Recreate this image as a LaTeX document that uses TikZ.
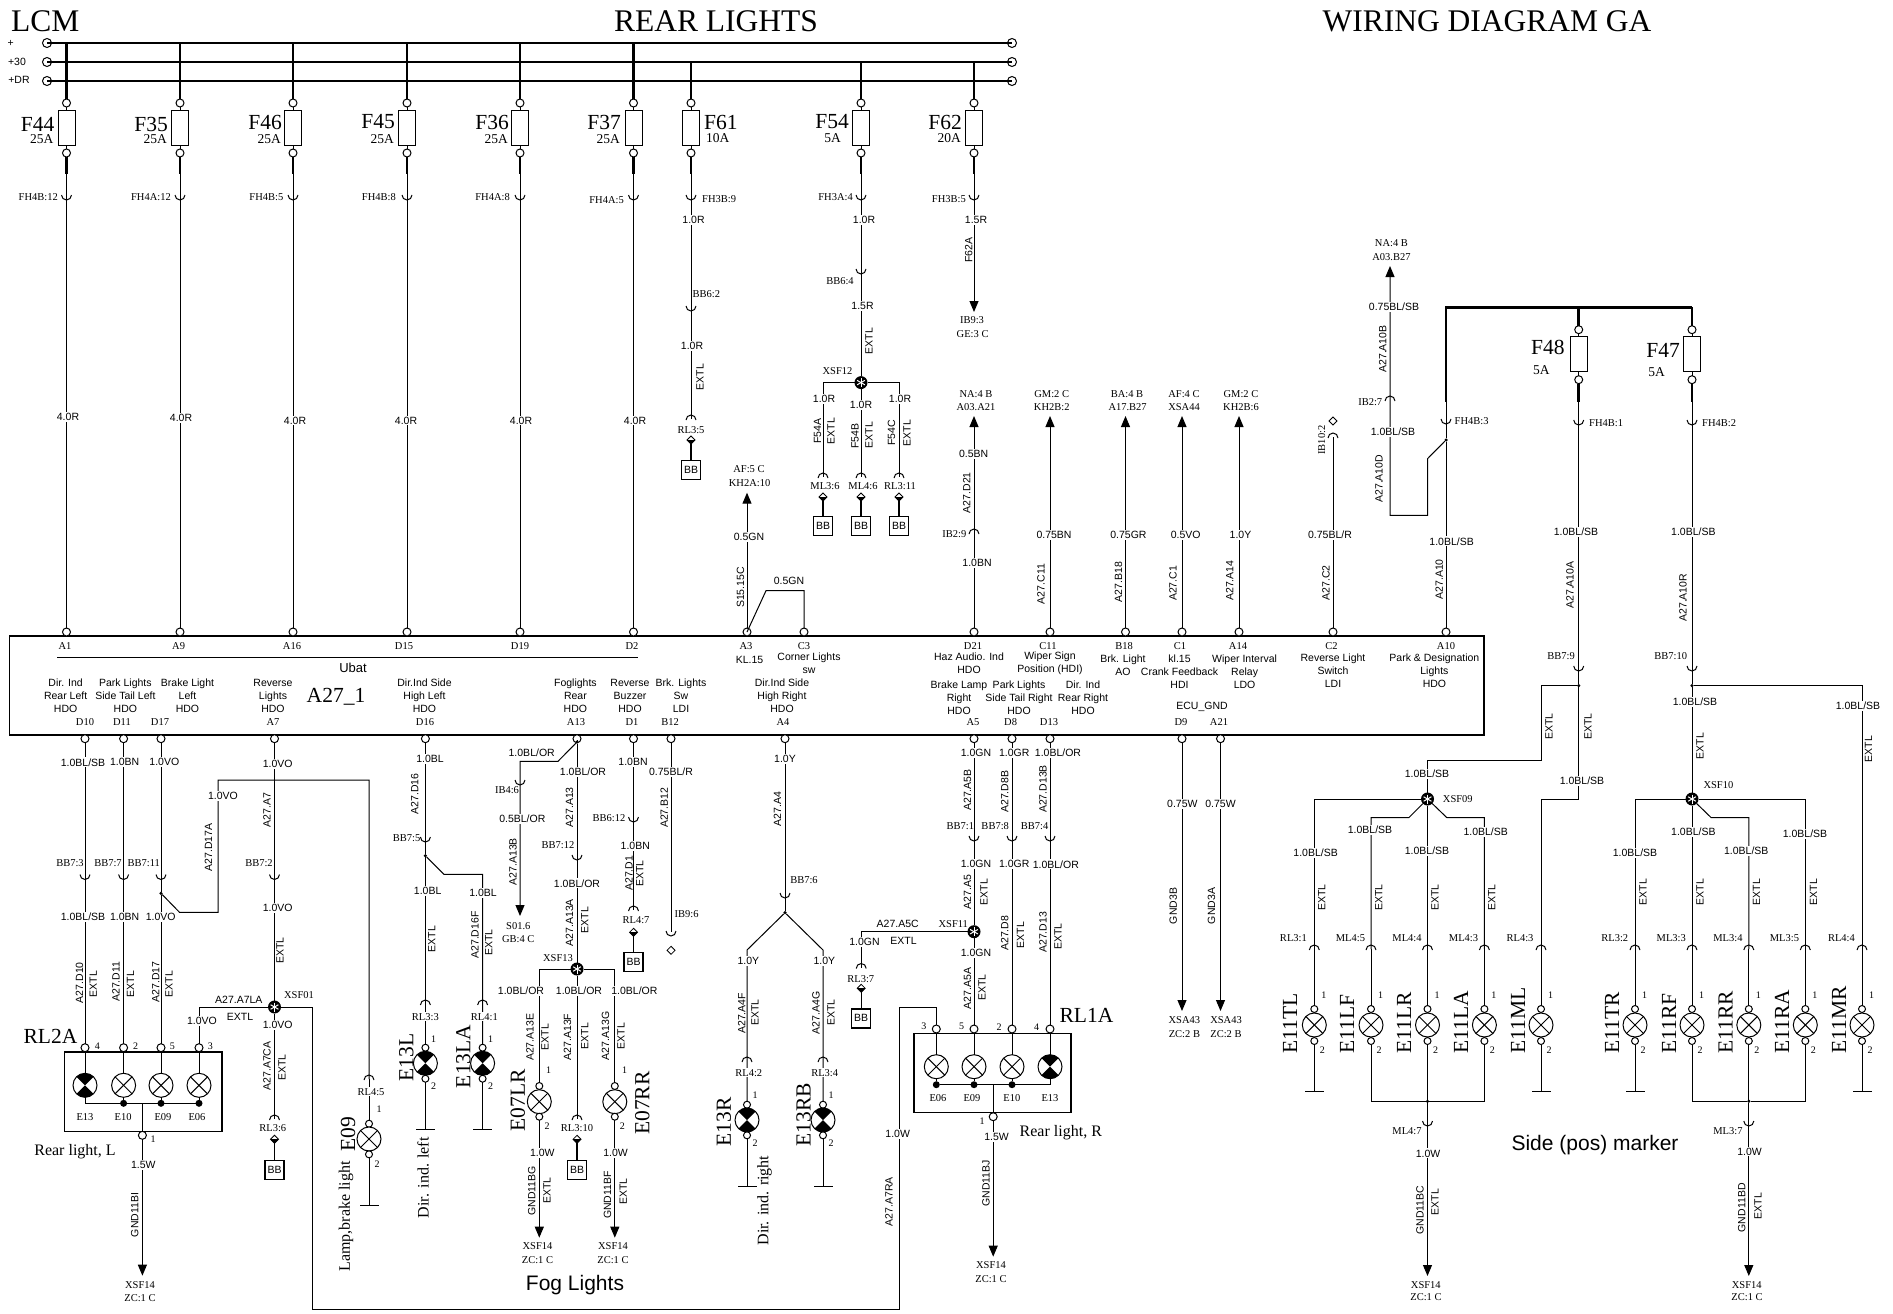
\documentclass[tikz,border=0pt]{standalone}
\usepackage{fontspec}
\setmainfont{Liberation Serif}
\setsansfont{Liberation Sans}
\usetikzlibrary{arrows.meta, shapes.geometric}

\begin{document}
\begin{tikzpicture}[x=1pt, y=-1pt,
		wire/.style={line width=1pt},
		feed/.style={line width=2.6pt},
		toarrow/.style={-{Triangle[length=11pt,width=9pt]}},
		tag/.style={font=\rmfamily\fontsize{10.5}{13}\selectfont, inner sep=0pt},
		tagw/.style={tag, fill=white, inner sep=1pt},
		num/.style={font=\rmfamily\fontsize{10}{12}\selectfont, inner sep=0pt},
		cab/.style={font=\sffamily\fontsize{10.5}{13}\selectfont, fill=white, inner sep=1.2pt},
		code/.style={font=\sffamily\fontsize{10.5}{13}\selectfont, rotate=90, inner sep=0pt},
		txt/.style={font=\sffamily\fontsize{10.5}{13}\selectfont, align=center, inner sep=0pt},
		title/.style={font=\rmfamily\fontsize{31.5}{34}\selectfont, inner sep=0pt},
		big/.style={font=\rmfamily\fontsize{21.5}{24}\selectfont, inner sep=0pt},
		bigv/.style={big, rotate=90, anchor=west},
		rate/.style={font=\rmfamily\fontsize{13.5}{15}\selectfont, inner sep=0pt},
		mid/.style={font=\rmfamily\fontsize{16}{18}\selectfont, inner sep=0pt},
		midv/.style={mid, rotate=90, anchor=west},
		hand/.style={font=\sffamily\fontsize{21}{24}\selectfont, inner sep=0pt},
		term/.style={circle, draw, fill=white, line width=1pt, inner sep=0pt, outer sep=0pt, minimum size=8pt},
		lpin/.style={term, minimum size=7pt},
		busend/.style={circle, draw, line width=1pt, inner sep=0pt, minimum size=9pt},
		fuse/.style={rectangle, draw, line width=1pt, inner sep=0pt, outer sep=0pt, minimum width=17pt, minimum height=35pt},
		unit/.style={rectangle, draw, line width=1.2pt, inner sep=0pt, outer sep=0pt},
		dot/.style={circle, fill=black, inner sep=0pt, outer sep=0pt, minimum size=3.5pt},
		bdot/.style={circle, fill=black, inner sep=0pt, outer sep=0pt, minimum size=7pt},
		bar/.style={rectangle, fill=black, inner sep=0pt, outer sep=0pt, minimum width=19pt, minimum height=1.4pt},
		cup/.style={inner sep=0pt, outer sep=0pt, minimum size=0pt,
			append after command={\pgfextra{\draw[wire] ([xshift=-5pt,yshift=1pt]\tikzlastnode.center) arc[start angle=180,end angle=360,radius=5pt];}}},
		hood/.style={inner sep=0pt, outer sep=0pt, minimum size=0pt,
			append after command={\pgfextra{\draw[wire] ([xshift=-5pt,yshift=-1pt]\tikzlastnode.center) arc[start angle=180,end angle=0,radius=5pt];}}},
		splice/.style={circle, fill=black, inner sep=0pt, outer sep=0pt, minimum size=13pt,
			path picture={
				\draw[white,line width=1pt] ([shift={(90:4.5pt)}]path picture bounding box.center) -- ([shift={(270:4.5pt)}]path picture bounding box.center);
				\draw[white,line width=1pt] ([shift={(30:4.5pt)}]path picture bounding box.center) -- ([shift={(210:4.5pt)}]path picture bounding box.center);
				\draw[white,line width=1pt] ([shift={(150:4.5pt)}]path picture bounding box.center) -- ([shift={(330:4.5pt)}]path picture bounding box.center);}},
		plug/.style={diamond, draw, line width=.8pt, fill=white, inner sep=0pt, outer sep=0pt, minimum size=8pt,
			path picture={\fill[black] (path picture bounding box.west) rectangle (path picture bounding box.south east);}},
		plugo/.style={diamond, draw, line width=.8pt, fill=white, inner sep=0pt, outer sep=0pt, minimum size=8pt},
		bbbox/.style={rectangle, draw, line width=1.4pt, fill=white, inner sep=0pt, outer sep=0pt, minimum size=19pt, font=\sffamily\fontsize{10.5}{13}\selectfont},
		lamp/.style={circle, draw, fill=white, line width=1pt, inner sep=0pt, outer sep=0pt, minimum size=24pt,
			path picture={
				\draw (path picture bounding box.north west) -- (path picture bounding box.south east);
				\draw (path picture bounding box.north east) -- (path picture bounding box.south west);}},
		lampb/.style={circle, draw, fill=white, line width=1pt, inner sep=0pt, outer sep=0pt, minimum size=24pt,
			path picture={
				\fill[black] (path picture bounding box.center) -- (path picture bounding box.north west) -- (path picture bounding box.north east) -- cycle;
				\fill[black] (path picture bounding box.center) -- (path picture bounding box.south west) -- (path picture bounding box.south east) -- cycle;}}
		]
		\useasboundingbox (0,0) rectangle (1893,1314);

		% titles
		\node[title] (lcm) at (45.3,21) {LCM};
		\node[title] (rear) at (716,21) {REAR LIGHTS};
		\node[title] (wiring) at (1487,21) {WIRING DIAGRAM GA};

		% supply rails
		\node[busend] (rail1a) at (47,43) {};
		\node[busend] (rail1b) at (1012,43) {};
		\node[busend] (rail2a) at (47,62) {};
		\node[busend] (rail2b) at (1012,62) {};
		\node[busend] (rail3a) at (47,81) {};
		\node[busend] (rail3b) at (1012,81) {};
		\draw[feed] (rail1a.center) -- (rail1b.center);
		\draw[feed] (rail2a.center) -- (rail2b.center);
		\draw[feed] (rail3a.center) -- (rail3b.center);
		\node[txt] (plus) at (10.7,43) {+};
		\node[txt] (plus30) at (17,61.5) {+30};
		\node[txt] (plusdr) at (19,80) {+DR};

		% control unit A27_1
		\node[unit, minimum width=1474.6pt, minimum height=99pt] (a27) at (746.7,685.5) {};
		\node[big] (a27n) at (336,697) {A27\_1};
		\coordinate (ubata) at (57,657.3);
		\coordinate (ubatb) at (637.5,657.3);
		\draw[wire] (ubata) -- (ubatb);
		\node[txt, font=\sffamily\fontsize{13}{15}\selectfont] (ubat) at (353,667.5) {Ubat};

		% terminals on the top edge
		\node[term] (a1) at (66.5,632) {};
		\node[term] (a9) at (180,632) {};
		\node[term] (a16) at (293,632) {};
		\node[term] (d15) at (407,632) {};
		\node[term] (d19) at (520,632) {};
		\node[term] (d2) at (633.5,632) {};
		\node[term] (a3) at (747,632) {};
		\node[term] (c3) at (804,632) {};
		\node[term] (d21) at (974,632) {};
		\node[term] (c11) at (1050,632) {};
		\node[term] (b18) at (1125.5,632) {};
		\node[term] (c1) at (1182,632) {};
		\node[term] (a14) at (1239,632) {};
		\node[term] (c2) at (1333,632) {};
		\node[term] (a10) at (1446,632) {};
		\node[tag] (a1t) at (65,645.7) {A1};
		\node[tag] (a9t) at (178.6,645.7) {A9};
		\node[tag] (a16t) at (292,645.7) {A16};
		\node[tag] (d15t) at (404,645.7) {D15};
		\node[tag] (d19t) at (520,645.7) {D19};
		\node[tag] (d2t) at (632,645.7) {D2};
		\node[tag] (a3t) at (746,645.7) {A3};
		\node[tag] (c3t) at (804,645.7) {C3};
		\node[tag] (d21t) at (973,645.7) {D21};
		\node[tag] (c11t) at (1048,645.7) {C11};
		\node[tag] (b18t) at (1124,645.7) {B18};
		\node[tag] (c1t) at (1180,645.7) {C1};
		\node[tag] (a14t) at (1238,645.7) {A14};
		\node[tag] (c2t) at (1331.5,645.7) {C2};
		\node[tag] (a10t) at (1446,645.7) {A10};

		% terminals on the bottom edge
		\node[term] (d10) at (85,738.7) {};
		\node[term] (d11) at (123.6,738.7) {};
		\node[term] (d17) at (161,738.7) {};
		\node[term] (a7) at (274.5,738.7) {};
		\node[term] (d16) at (425.4,738.7) {};
		\node[term] (a13) at (577,738.7) {};
		\node[term] (d1) at (633.5,738.7) {};
		\node[term] (b12) at (671,738.7) {};
		\node[term] (a4) at (785,738.7) {};
		\node[term] (a5) at (974,738.7) {};
		\node[term] (d8) at (1012,738.7) {};
		\node[term] (d13) at (1050,738.7) {};
		\node[term] (d9) at (1182,738.7) {};
		\node[term] (a21) at (1220.5,738.7) {};
		\node[tag] (d10t) at (85,721.7) {D10};
		\node[tag] (d11t) at (122,721.7) {D11};
		\node[tag] (d17t) at (160,721.7) {D17};
		\node[tag] (a7t) at (273,721.7) {A7};
		\node[tag] (d16t) at (425,721.7) {D16};
		\node[tag] (a13t) at (576,721.7) {A13};
		\node[tag] (d1t) at (632,721.7) {D1};
		\node[tag] (b12t) at (670,721.7) {B12};
		\node[tag] (a4t) at (783,721.7) {A4};
		\node[tag] (a5t) at (973,721.7) {A5};
		\node[tag] (d8t) at (1010.6,721.7) {D8};
		\node[tag] (d13t) at (1049,721.7) {D13};
		\node[tag] (d9t) at (1181,721.7) {D9};
		\node[tag] (a21t) at (1219,721.7) {A21};

		% texts inside the unit
		\node[txt] (b1) at (65.6,695.7) {Dir. Ind\\Rear Left\\HDO};
		\node[txt] (b2) at (125.4,695.7) {Park Lights\\Side Tail Left\\HDO};
		\node[txt] (b3) at (187.5,695.7) {Brake Light\\Left\\HDO};
		\node[txt] (b4) at (273,695.7) {Reverse\\Lights\\HDO};
		\node[txt] (b5) at (424.5,695.7) {Dir.Ind Side\\High Left\\HDO};
		\node[txt] (b6) at (575.4,695.7) {Foglights\\Rear\\HDO};
		\node[txt] (b7) at (630,695.7) {Reverse\\Buzzer\\HDO};
		\node[txt] (b8) at (681,695.7) {Brk. Lights\\Sw\\LDI};
		\node[txt] (b9) at (782,695.7) {Dir.Ind Side\\High Right\\HDO};
		\node[txt] (b10) at (749.6,660) {KL.15};
		\node[txt] (b11) at (809,662.8) {Corner Lights\\sw};
		\node[txt] (b12n) at (969,662.8) {Haz Audio. Ind\\HDO};
		\node[txt] (b13) at (1050,662.8) {Wiper Sign\\Position (HDI)};
		\node[txt] (b14) at (1123,664.8) {Brk. Light\\AO};
		\node[txt] (b15) at (1179.5,671.3) {kl.15\\Crank Feedback\\HDI};
		\node[txt] (b16) at (1244.6,671.3) {Wiper Interval\\Relay\\LDO};
		\node[txt] (b17) at (1333,671) {Reverse Light\\Switch\\LDI};
		\node[txt] (b18n) at (1434.4,671) {Park \& Designation\\Lights\\HDO};
		\node[txt] (b19) at (959,697.3) {Brake Lamp\\Right\\HDO};
		\node[txt] (b20) at (1019,697.3) {Park Lights\\Side Tail Right\\HDO};
		\node[txt] (b21) at (1083,697.3) {Dir. Ind\\Rear Right\\HDO};
		\node[txt] (b22) at (1202,707) {ECU\_GND};

		% fuse F44
		\coordinate (f44z) at (66.5,43);
		\node[term] (f44a) at (66.5,103) {};
		\node[fuse] (f44) at (66.5,127.5) {};
		\node[term] (f44b) at (66.5,153) {};
		\coordinate (f44s) at (66.5,174);
		\node[cup] (fh44) at (66.5,196) {};
		\draw[feed] (f44z) -- (f44a);
		\draw[wire] (f44a) -- (f44);
		\draw[wire] (f44) -- (f44b);
		\draw[feed] (f44b) -- (f44s);
		\draw[wire] (f44s) -- (fh44) -- (a1);
		\node[big, anchor=east] (f44n) at (54.5,124) {F44};
		\node[rate, anchor=east] (f44r) at (53.5,139) {25A};
		\node[tag, anchor=east] (fh44t) at (58,197) {FH4B:12};
		\node[cab] (w1) at (68,417) {4.0R};

		% fuse F35
		\coordinate (f35z) at (180,43);
		\node[term] (f35a) at (180,103) {};
		\node[fuse] (f35) at (180,127.5) {};
		\node[term] (f35b) at (180,153) {};
		\coordinate (f35s) at (180,174);
		\node[cup] (fh35) at (180,196) {};
		\draw[feed] (f35z) -- (f35a);
		\draw[wire] (f35a) -- (f35);
		\draw[wire] (f35) -- (f35b);
		\draw[feed] (f35b) -- (f35s);
		\draw[wire] (f35s) -- (fh35) -- (a9);
		\node[big, anchor=east] (f35n) at (168,124) {F35};
		\node[rate, anchor=east] (f35r) at (167,139) {25A};
		\node[tag, anchor=east] (fh35t) at (171,197) {FH4A:12};
		\node[cab] (w2) at (181,418) {4.0R};

		% fuse F46
		\coordinate (f46z) at (293,43);
		\node[term] (f46a) at (293,103) {};
		\node[fuse] (f46) at (293,127.5) {};
		\node[term] (f46b) at (293,153) {};
		\coordinate (f46s) at (293,174);
		\node[cup] (fh46) at (293,196) {};
		\draw[feed] (f46z) -- (f46a);
		\draw[wire] (f46a) -- (f46);
		\draw[wire] (f46) -- (f46b);
		\draw[feed] (f46b) -- (f46s);
		\draw[wire] (f46s) -- (fh46) -- (a16);
		\node[big, anchor=east] (f46n) at (282,122) {F46};
		\node[rate, anchor=east] (f46r) at (281,139) {25A};
		\node[tag, anchor=east] (fh46t) at (283.5,197) {FH4B:5};
		\node[cab] (w3) at (295,420.5) {4.0R};

		% fuse F45
		\coordinate (f45z) at (407,43);
		\node[term] (f45a) at (407,103) {};
		\node[fuse] (f45) at (407,127.5) {};
		\node[term] (f45b) at (407,153) {};
		\coordinate (f45s) at (407,174);
		\node[cup] (fh45) at (407,196) {};
		\draw[feed] (f45z) -- (f45a);
		\draw[wire] (f45a) -- (f45);
		\draw[wire] (f45) -- (f45b);
		\draw[feed] (f45b) -- (f45s);
		\draw[wire] (f45s) -- (fh45) -- (d15);
		\node[big, anchor=east] (f45n) at (395,122) {F45};
		\node[rate, anchor=east] (f45r) at (394,139) {25A};
		\node[tag, anchor=east] (fh45t) at (396,197) {FH4B:8};
		\node[cab] (w4) at (406,420.5) {4.0R};

		% fuse F36
		\coordinate (f36z) at (520,43);
		\node[term] (f36a) at (520,103) {};
		\node[fuse] (f36) at (520,127.5) {};
		\node[term] (f36b) at (520,153) {};
		\coordinate (f36s) at (520,174);
		\node[cup] (fh36) at (520,196) {};
		\draw[feed] (f36z) -- (f36a);
		\draw[wire] (f36a) -- (f36);
		\draw[wire] (f36) -- (f36b);
		\draw[feed] (f36b) -- (f36s);
		\draw[wire] (f36s) -- (fh36) -- (d19);
		\node[big, anchor=east] (f36n) at (509,122) {F36};
		\node[rate, anchor=east] (f36r) at (508,139) {25A};
		\node[tag, anchor=east] (fh36t) at (510,197) {FH4A:8};
		\node[cab] (w5) at (521,420.5) {4.0R};

		% fuse F37
		\coordinate (f37z) at (633.5,43);
		\node[term] (f37a) at (633.5,103) {};
		\node[fuse] (f37) at (633.5,127.5) {};
		\node[term] (f37b) at (633.5,153) {};
		\coordinate (f37s) at (633.5,174);
		\node[cup] (fh37) at (633.5,196) {};
		\draw[feed] (f37z) -- (f37a);
		\draw[wire] (f37a) -- (f37);
		\draw[wire] (f37) -- (f37b);
		\draw[feed] (f37b) -- (f37s);
		\draw[wire] (f37s) -- (fh37) -- (d2);
		\node[big, anchor=east] (f37n) at (621,122) {F37};
		\node[rate, anchor=east] (f37r) at (620,139) {25A};
		\node[tag, anchor=east] (fh37t) at (624,200) {FH4A:5};
		\node[cab] (w6) at (635,420.5) {4.0R};

		% fuse F61
		\coordinate (f61z) at (691,62);
		\node[term] (f61a) at (691,103) {};
		\node[fuse] (f61) at (691,127.5) {};
		\node[term] (f61b) at (691,153) {};
		\coordinate (f61s) at (691,174);
		\node[cup] (fh61) at (691,196) {};
		\node[cup] (bb62) at (691,307) {};
		\node[hood] (rl35) at (691,419) {};
		\node[plug] (rl35p) at (691,440) {};
		\node[bbbox] (bb1) at (691,470) {BB};
		\draw[feed] (f61z) -- (f61a);
		\draw[wire] (f61a) -- (f61);
		\draw[wire] (f61) -- (f61b);
		\draw[feed] (f61b) -- (f61s);
		\draw[wire] (f61s) -- (fh61) -- (bb62) -- (rl35);
		\draw[line width=1.4pt] (rl35p) -- (bb1);
		\node[big, anchor=west] (f61n) at (704,122) {F61};
		\node[rate, anchor=west] (f61r) at (706,138.5) {10A};
		\node[tag, anchor=west] (fh61t) at (702,199) {FH3B:9};
		\node[cab] (w7) at (693.5,219.6) {1.0R};
		\node[tag, anchor=west] (bb62t) at (692.5,294) {BB6:2};
		\node[cab] (w8) at (692,346) {1.0R};
		\node[code] (k1) at (700,377) {EXTL};
		\node[tag] (rl35t) at (691,430) {RL3:5};

		% fuse F54
		\coordinate (f54z) at (861,62);
		\node[term] (f54a) at (861,103) {};
		\node[fuse] (f54) at (861,127.5) {};
		\node[term] (f54b) at (861,153) {};
		\coordinate (f54s) at (861,174);
		\node[cup] (fh54) at (861,196) {};
		\node[cup] (bb64) at (861,270) {};
		\node[splice] (xsf12) at (861,382.6) {};
		\coordinate (x12l) at (823,382.6);
		\coordinate (x12r) at (899,382.6);
		\node[hood] (ml36) at (823,477) {};
		\node[hood] (ml46) at (861,477) {};
		\node[hood] (rl311) at (899,477) {};
		\node[plug] (ml36p) at (823,497) {};
		\node[plug] (ml46p) at (861,497) {};
		\node[plug] (rl311p) at (899,497) {};
		\node[bbbox] (bb2) at (823,526) {BB};
		\node[bbbox] (bb3) at (861,526) {BB};
		\node[bbbox] (bb4) at (899,526) {BB};
		\draw[feed] (f54z) -- (f54a);
		\draw[wire] (f54a) -- (f54);
		\draw[wire] (f54) -- (f54b);
		\draw[feed] (f54b) -- (f54s);
		\draw[wire] (f54s) -- (fh54) -- (bb64) -- (xsf12);
		\draw[wire] (xsf12) -- (x12l) -- (ml36);
		\draw[wire] (xsf12) -- (ml46);
		\draw[wire] (xsf12) -- (x12r) -- (rl311);
		\draw[line width=1.4pt] (ml36p) -- (bb2);
		\draw[line width=1.4pt] (ml46p) -- (bb3);
		\draw[line width=1.4pt] (rl311p) -- (bb4);
		\node[big, anchor=east] (f54n) at (849,122) {F54};
		\node[rate, anchor=east] (f54r) at (841,138.5) {5A};
		\node[tag, anchor=east] (fh54t) at (853,197) {FH3A:4};
		\node[cab] (w9) at (864,219.6) {1.0R};
		\node[tag] (bb64t) at (840,280.6) {BB6:4};
		\node[cab] (w10) at (862.5,306) {1.5R};
		\node[code] (k2) at (869,341) {EXTL};
		\node[tag] (xsf12t) at (837.5,371) {XSF12};
		\node[cab] (w11) at (824,399) {1.0R};
		\node[cab] (w12) at (861,405) {1.0R};
		\node[cab] (w13) at (900,399) {1.0R};
		\node[code] (k3) at (817.6,431) {F54A};
		\node[code] (k4) at (831,431) {EXTL};
		\node[code] (k5) at (855,436) {F54B};
		\node[code] (k6) at (869,435) {EXTL};
		\node[code] (k7) at (891.5,433) {F54C};
		\node[code] (k8) at (907,433) {EXTL};
		\node[tag] (ml36t) at (825,486) {ML3:6};
		\node[tag] (ml46t) at (863,486) {ML4:6};
		\node[tag] (rl311t) at (900,486) {RL3:11};

		% fuse F62
		\coordinate (f62z) at (974,62);
		\node[term] (f62a) at (974,103) {};
		\node[fuse] (f62) at (974,127.5) {};
		\node[term] (f62b) at (974,153) {};
		\coordinate (f62s) at (974,174);
		\node[cup] (fh62) at (974,196) {};
		\coordinate (f62e) at (974,312);
		\draw[feed] (f62z) -- (f62a);
		\draw[wire] (f62a) -- (f62);
		\draw[wire] (f62) -- (f62b);
		\draw[feed] (f62b) -- (f62s);
		\draw[wire, toarrow] (f62s) -- (fh62) -- (f62e);
		\node[big, anchor=east] (f62n) at (962,122) {F62};
		\node[rate, anchor=east] (f62r) at (961,138.5) {20A};
		\node[tag, anchor=east] (fh62t) at (966,199) {FH3B:5};
		\node[cab] (w14) at (976,220) {1.5R};
		\node[code] (k9) at (968.7,250) {F62A};
		\node[tag] (ib93) at (972,320) {IB9:3};
		\node[tag] (ge3c) at (972.6,334) {GE:3 C};

		% outputs going up from the unit
		\coordinate (a3e) at (747,492.7);
		\coordinate (c3x) at (766,590.7);
		\coordinate (c3y) at (804,590.7);
		\draw[wire, toarrow] (a3) -- (a3e);
		\draw[wire] (a3.center) -- (c3x) -- (c3y) -- (c3);
		\node[tag] (af5c) at (749,469) {AF:5 C};
		\node[tag] (kh2a) at (749.6,483) {KH2A:10};
		\node[cab] (w15) at (749,537) {0.5GN};
		\node[code] (k10) at (740.5,587.5) {S15.15C};
		\node[cab] (w16) at (789,580.6) {0.5GN};

		\coordinate (d21e) at (974,416);
		\node[hood] (ib29) at (974,533) {};
		\draw[wire, toarrow] (d21) -- (ib29) -- (d21e);
		\node[tag] (na4b) at (976,394) {NA:4 B};
		\node[tag] (a03a) at (976,407.5) {A03.A21};
		\node[cab] (w17) at (973.6,453.7) {0.5BN};
		\node[code] (k11) at (966.6,492.7) {A27.D21};
		\node[tag, anchor=east] (ib29t) at (966.6,534) {IB2:9};
		\node[cab] (w18) at (977,563) {1.0BN};

		\coordinate (c11e) at (1050,416);
		\draw[wire, toarrow] (c11) -- (c11e);
		\node[tag] (gm2c) at (1051.7,394) {GM:2 C};
		\node[tag] (kh2b) at (1051.7,407.5) {KH2B:2};
		\node[cab] (w19) at (1054,535) {0.75BN};
		\node[code] (k12) at (1041,584) {A27.C11};

		\coordinate (b18e) at (1125.5,416);
		\draw[wire, toarrow] (b18) -- (b18e);
		\node[tag] (ba4b) at (1127,394) {BA:4 B};
		\node[tag] (a17b) at (1127.6,407.5) {A17.B27};
		\node[cab] (w20) at (1128.4,535) {0.75GR};
		\node[code] (k13) at (1118.5,582) {A27.B18};

		\coordinate (c1e) at (1182,416);
		\draw[wire, toarrow] (c1) -- (c1e);
		\node[tag] (af4c) at (1184,394) {AF:4 C};
		\node[tag] (xsa44) at (1184,407.5) {XSA44};
		\node[cab] (w21) at (1185.7,535) {0.5VO};
		\node[code] (k14) at (1173,583.4) {A27.C1};

		\coordinate (a14e) at (1239,416);
		\draw[wire, toarrow] (a14) -- (a14e);
		\node[tag] (gm2d) at (1241,394) {GM:2 C};
		\node[tag] (kh2c) at (1241,407.5) {KH2B:6};
		\node[cab] (w22) at (1240.5,535) {1.0Y};
		\node[code] (k15) at (1229.7,580.6) {A27.A14};

		\node[plugo] (ib102p) at (1333,421) {};
		\node[hood] (ib102) at (1333,437) {};
		\draw[wire] (c2) -- (ib102);
		\node[tag, rotate=90] (ib102t) at (1321.7,440) {IB10:2};
		\node[cab] (w23) at (1330,535) {0.75BL/R};
		\node[code] (k16) at (1326,583) {A27.C2};

		% supply of A10 and fuses F48, F47
		\coordinate (a10z) at (1446,307.3);
		\coordinate (f48z) at (1578.7,307.3);
		\coordinate (f47z) at (1692,307.3);
		\coordinate (a10s) at (1446,401.7);
		\node[cup] (fh43) at (1446,420) {};
		\node[dot] (a10j) at (1446,440) {};
		\coordinate (a10x) at (1427.5,458.7);
		\coordinate (a10y) at (1427.5,515.3);
		\coordinate (a10w) at (1390,515.3);
		\node[hood] (ib27) at (1390,400) {};
		\coordinate (a10e) at (1390,266);
		\draw[feed] (a10s) -- (a10z) -- (f47z);
		\draw[wire] (a10s) -- (fh43) -- (a10j) -- (a10);
		\draw[wire, toarrow] (a10j) -- (a10x) -- (a10y) -- (a10w) -- (ib27) -- (a10e);
		\node[tag] (na4c) at (1391.4,242.7) {NA:4 B};
		\node[tag] (a03b) at (1391.4,256.7) {A03.B27};
		\node[cab] (w24) at (1394,306.7) {0.75BL/SB};
		\node[code] (k17) at (1382.8,349) {A27.A10B};
		\node[tag, anchor=east] (ib27t) at (1382.4,401.7) {IB2:7};
		\node[cab] (w25) at (1393,431.7) {1.0BL/SB};
		\node[code] (k18) at (1379,478.7) {A27.A10D};
		\node[tag, anchor=west] (fh43t) at (1454.5,420.7) {FH4B:3};
		\node[cab] (w26) at (1451.6,541.3) {1.0BL/SB};
		\node[code] (k19) at (1439.3,579.3) {A27.A10};

		% fuse F48 and its two runs
		\node[term] (f48a) at (1578.7,329.7) {};
		\node[fuse] (f48) at (1578.7,354.3) {};
		\node[term] (f48b) at (1578.7,379.7) {};
		\coordinate (f48s) at (1578.7,401.7);
		\node[cup] (fh41) at (1578.7,421) {};
		\node[cup] (bb79) at (1578.7,667) {};
		\node[dot] (f48j) at (1578.7,685.7) {};
		\coordinate (f48l) at (1541,685.7);
		\coordinate (f48m) at (1541,760.7);
		\coordinate (f48n2) at (1427.5,760.7);
		\coordinate (f48o) at (1578.7,799);
		\coordinate (f48p) at (1541,799);
		\node[hood] (rl43) at (1541,949) {};
		\node[splice] (xsf09) at (1427.5,799) {};
		\draw[feed] (f48z) -- (f48a);
		\draw[wire] (f48a) -- (f48);
		\draw[wire] (f48) -- (f48b);
		\draw[feed] (f48b) -- (f48s);
		\draw[wire] (f48s) -- (fh41) -- (bb79) -- (f48j) -- (f48o) -- (f48p) -- (rl43);
		\draw[wire] (f48j) -- (f48l) -- (f48m) -- (f48n2) -- (xsf09);
		\node[big, anchor=east] (f48n) at (1564.8,347.7) {F48};
		\node[rate] (f48r) at (1541.4,370) {5A};
		\node[tag, anchor=west] (fh41t) at (1589,422.7) {FH4B:1};
		\node[cab] (w27) at (1576,532) {1.0BL/SB};
		\node[code] (k20) at (1570,585) {A27.A10A};
		\node[tag, anchor=east] (bb79t) at (1575,655.7) {BB7:9};
		\node[code] (k21) at (1549,726.6) {EXTL};
		\node[code] (k22) at (1588,726.6) {EXTL};
		\node[cab] (w28) at (1427,773.6) {1.0BL/SB};
		\node[cab] (w29) at (1582,781) {1.0BL/SB};
		\node[tag] (xsf09t) at (1457.8,799) {XSF09};

		% fuse F47 and its two runs
		\node[term] (f47a) at (1692,329.7) {};
		\node[fuse] (f47) at (1692,354.3) {};
		\node[term] (f47b) at (1692,379.7) {};
		\coordinate (f47s) at (1692,401.7);
		\node[cup] (fh42) at (1692,421) {};
		\node[cup] (bb710) at (1692,667) {};
		\node[dot] (f47j) at (1692,685.7) {};
		\coordinate (f47r2) at (1862,685.7);
		\node[hood] (rl44) at (1862,949) {};
		\node[splice] (xsf10) at (1692,799) {};
		\draw[feed] (f47z) -- (f47a);
		\draw[wire] (f47a) -- (f47);
		\draw[wire] (f47) -- (f47b);
		\draw[feed] (f47b) -- (f47s);
		\draw[wire] (f47s) -- (fh42) -- (bb710) -- (f47j) -- (xsf10);
		\draw[wire] (f47j) -- (f47r2) -- (rl44);
		\node[big, anchor=east] (f47n) at (1680,350) {F47};
		\node[rate] (f47r) at (1656.6,371.7) {5A};
		\node[tag, anchor=west] (fh42t) at (1702,422.7) {FH4B:2};
		\node[cab] (w30) at (1693.4,532) {1.0BL/SB};
		\node[code] (k23) at (1683,597.7) {A27.A10R};
		\node[tag, anchor=east] (bb710t) at (1687.3,655.7) {BB7:10};
		\node[cab] (w31) at (1695,701.7) {1.0BL/SB};
		\node[cab] (w32) at (1858,705.7) {1.0BL/SB};
		\node[code] (k24) at (1700,746) {EXTL};
		\node[code] (k25) at (1868.4,749) {EXTL};
		\node[tag] (xsf10t) at (1718.4,785.4) {XSF10};

		% side marker lamps, left group
		\node[hood] (rl31) at (1314.3,949) {};
		\node[hood] (ml45) at (1371,949) {};
		\node[hood] (ml44) at (1427.5,949) {};
		\node[hood] (ml43) at (1484.4,949) {};
		\coordinate (x09a) at (1314.3,799);
		\coordinate (x09b) at (1409,817.5);
		\coordinate (x09c) at (1371,817.5);
		\coordinate (x09d) at (1446.7,817.5);
		\coordinate (x09e) at (1484.4,817.5);
		\draw[wire] (xsf09) -- (x09a) -- (rl31);
		\draw[wire] (xsf09) -- (x09b) -- (x09c) -- (ml45);
		\draw[wire] (xsf09) -- (ml44);
		\draw[wire] (xsf09) -- (x09d) -- (x09e) -- (ml43);
		\node[lamp] (e11tl) at (1314.3,1025) {};
		\node[lamp] (e11lf) at (1371,1025) {};
		\node[lamp] (e11lr) at (1427.5,1025) {};
		\node[lamp] (e11la) at (1484.4,1025) {};
		\node[lamp] (e11ml) at (1541,1025) {};
		\node[lpin] (e11tla) at (1314.3,1009) {};
		\node[lpin] (e11lfa) at (1371,1009) {};
		\node[lpin] (e11lra) at (1427.5,1009) {};
		\node[lpin] (e11laa) at (1484.4,1009) {};
		\node[lpin] (e11mla) at (1541,1009) {};
		\node[lpin] (e11tlb) at (1314.3,1041) {};
		\node[lpin] (e11lfb) at (1371,1041) {};
		\node[lpin] (e11lrb) at (1427.5,1041) {};
		\node[lpin] (e11lab) at (1484.4,1041) {};
		\node[lpin] (e11mlb) at (1541,1041) {};
		\node[bar] (g1) at (1314.3,1091.5) {};
		\node[bar] (g2) at (1541,1091.5) {};
		\coordinate (r1a) at (1371,1101.3);
		\node[dot] (r1j) at (1427.5,1101.3) {};
		\coordinate (r1b) at (1484.4,1101.3);
		\node[cup] (ml47) at (1427.5,1122) {};
		\coordinate (r1e) at (1427.5,1276);
		\draw[wire] (rl31) -- (e11tla);
		\draw[wire] (ml45) -- (e11lfa);
		\draw[wire] (ml44) -- (e11lra);
		\draw[wire] (ml43) -- (e11laa);
		\draw[wire] (rl43) -- (e11mla);
		\draw[wire] (e11tlb) -- (g1);
		\draw[wire] (e11mlb) -- (g2);
		\draw[wire] (e11lfb) -- (r1a) -- (r1j);
		\draw[wire] (e11lab) -- (r1b) -- (r1j);
		\draw[wire, toarrow] (e11lrb) -- (r1j) -- (ml47) -- (r1e);
		\node[cab] (w33) at (1315.6,852.7) {1.0BL/SB};
		\node[cab] (w34) at (1370,830) {1.0BL/SB};
		\node[cab] (w35) at (1427,850.7) {1.0BL/SB};
		\node[cab] (w36) at (1485.7,832) {1.0BL/SB};
		\node[code] (k26) at (1321.7,897.7) {EXTL};
		\node[code] (k27) at (1378.7,897.7) {EXTL};
		\node[code] (k28) at (1435,897.7) {EXTL};
		\node[code] (k29) at (1491.8,897.7) {EXTL};
		\node[tag] (rl31t) at (1293.4,938) {RL3:1};
		\node[tag] (ml45t) at (1350.4,938) {ML4:5};
		\node[tag] (ml44t) at (1407,938) {ML4:4};
		\node[tag] (ml43t) at (1463.5,938) {ML4:3};
		\node[tag] (rl43t) at (1520,938) {RL4:3};
		\node[bigv] (e11tln) at (1290,1053.6) {E11TL};
		\node[bigv] (e11lfn) at (1347,1053.6) {E11LF};
		\node[bigv] (e11lrn) at (1404,1053.6) {E11LR};
		\node[bigv] (e11lan) at (1461,1053.6) {E11LA};
		\node[bigv] (e11mln) at (1518,1053.6) {E11ML};
		\node[num] (n1) at (1323.8,995.6) {1};
		\node[num] (n2) at (1380.5,995.6) {1};
		\node[num] (n3) at (1437,995.6) {1};
		\node[num] (n4) at (1493.9,995.6) {1};
		\node[num] (n5) at (1550.5,995.6) {1};
		\node[num] (n6) at (1322.3,1050.4) {2};
		\node[num] (n7) at (1379,1050.4) {2};
		\node[num] (n8) at (1435.5,1050.4) {2};
		\node[num] (n9) at (1492.4,1050.4) {2};
		\node[num] (n10) at (1549,1050.4) {2};
		\node[tag] (ml47t) at (1407,1131.5) {ML4:7};
		\node[cab] (w37) at (1428,1153.4) {1.0W};
		\node[code] (k30) at (1420,1210) {GND11BC};
		\node[code] (k31) at (1435,1202) {EXTL};
		\node[tag] (x14a) at (1425.8,1284.6) {XSF14};
		\node[tag] (z1a) at (1426,1297.5) {ZC:1 C};
		\node[hand] (side) at (1595,1145) {Side (pos) marker};

		% side marker lamps, right group
		\node[hood] (rl32) at (1635,949) {};
		\node[hood] (ml33) at (1692,949) {};
		\node[hood] (ml34) at (1748.8,949) {};
		\node[hood] (ml35) at (1805.3,949) {};
		\coordinate (x10a) at (1635,799);
		\coordinate (x10b) at (1711,817.5);
		\coordinate (x10c) at (1748.8,817.5);
		\coordinate (x10d) at (1805.3,799);
		\draw[wire] (xsf10) -- (x10a) -- (rl32);
		\draw[wire] (xsf10) -- (ml33);
		\draw[wire] (xsf10) -- (x10b) -- (x10c) -- (ml34);
		\draw[wire] (xsf10) -- (x10d) -- (ml35);
		\node[lamp] (e11tr) at (1635,1025) {};
		\node[lamp] (e11rf) at (1692,1025) {};
		\node[lamp] (e11rr) at (1748.8,1025) {};
		\node[lamp] (e11ra) at (1805.3,1025) {};
		\node[lamp] (e11mr) at (1862,1025) {};
		\node[lpin] (e11tra) at (1635,1009) {};
		\node[lpin] (e11rfa) at (1692,1009) {};
		\node[lpin] (e11rra) at (1748.8,1009) {};
		\node[lpin] (e11raa) at (1805.3,1009) {};
		\node[lpin] (e11mra) at (1862,1009) {};
		\node[lpin] (e11trb) at (1635,1041) {};
		\node[lpin] (e11rfb) at (1692,1041) {};
		\node[lpin] (e11rrb) at (1748.8,1041) {};
		\node[lpin] (e11rab) at (1805.3,1041) {};
		\node[lpin] (e11mrb) at (1862,1041) {};
		\node[bar] (g3) at (1635,1091.5) {};
		\node[bar] (g4) at (1862,1091.5) {};
		\coordinate (r2a) at (1692,1101.3);
		\node[dot] (r2j) at (1748.8,1101.3) {};
		\coordinate (r2b) at (1805.3,1101.3);
		\node[cup] (ml37) at (1748.8,1122) {};
		\coordinate (r2e) at (1748.8,1276);
		\draw[wire] (rl32) -- (e11tra);
		\draw[wire] (ml33) -- (e11rfa);
		\draw[wire] (ml34) -- (e11rra);
		\draw[wire] (ml35) -- (e11raa);
		\draw[wire] (rl44) -- (e11mra);
		\draw[wire] (e11trb) -- (g3);
		\draw[wire] (e11mrb) -- (g4);
		\draw[wire] (e11rfb) -- (r2a) -- (r2j);
		\draw[wire] (e11rab) -- (r2b) -- (r2j);
		\draw[wire, toarrow] (e11rrb) -- (r2j) -- (ml37) -- (r2e);
		\node[cab] (w38) at (1635,852.7) {1.0BL/SB};
		\node[cab] (w39) at (1693.4,832) {1.0BL/SB};
		\node[cab] (w40) at (1746.3,850.7) {1.0BL/SB};
		\node[cab] (w41) at (1805,834) {1.0BL/SB};
		\node[code] (k32) at (1643,892) {EXTL};
		\node[code] (k33) at (1700,892) {EXTL};
		\node[code] (k34) at (1756.6,892) {EXTL};
		\node[code] (k35) at (1813.5,892) {EXTL};
		\node[tag] (rl32t) at (1614.8,938) {RL3:2};
		\node[tag] (ml33t) at (1671.3,938) {ML3:3};
		\node[tag] (ml34t) at (1727.9,938) {ML3:4};
		\node[tag] (ml35t) at (1784.4,938) {ML3:5};
		\node[tag] (rl44t) at (1841.4,938) {RL4:4};
		\node[bigv] (e11trn) at (1612,1053.6) {E11TR};
		\node[bigv] (e11rfn) at (1669,1053.6) {E11RF};
		\node[bigv] (e11rrn) at (1725.4,1053.6) {E11RR};
		\node[bigv] (e11ran) at (1782,1053.6) {E11RA};
		\node[bigv] (e11mrn) at (1839,1053.6) {E11MR};
		\node[num] (n11) at (1644.5,995.6) {1};
		\node[num] (n12) at (1701.5,995.6) {1};
		\node[num] (n13) at (1758.3,995.6) {1};
		\node[num] (n14) at (1814.8,995.6) {1};
		\node[num] (n15) at (1871.5,995.6) {1};
		\node[num] (n16) at (1643,1050.4) {2};
		\node[num] (n17) at (1700,1050.4) {2};
		\node[num] (n18) at (1756.8,1050.4) {2};
		\node[num] (n19) at (1813.3,1050.4) {2};
		\node[num] (n20) at (1870,1050.4) {2};
		\node[tag] (ml37t) at (1727.9,1131.5) {ML3:7};
		\node[cab] (w42) at (1749.6,1151.5) {1.0W};
		\node[code] (k36) at (1741.8,1207.8) {GND11BD};
		\node[code] (k37) at (1758,1206) {EXTL};
		\node[tag] (x14b) at (1746.7,1284.6) {XSF14};
		\node[tag] (z1b) at (1747,1297.5) {ZC:1 C};

		% rear light RL2A
		\node[unit, minimum width=157.2pt, minimum height=79.7pt] (rl2a) at (143.3,1091.8) {};
		\node[term] (p4) at (85,1047.7) {};
		\node[term] (p2) at (123.6,1047.7) {};
		\node[term] (p5) at (161,1047.7) {};
		\node[term] (p3) at (199,1047.7) {};
		\node[lampb] (la13) at (85,1085.3) {};
		\node[lamp] (la10) at (123.6,1085.3) {};
		\node[lamp] (la09) at (161,1085.3) {};
		\node[lamp] (la06) at (199,1085.3) {};
		\coordinate (lc13) at (85,1103.3);
		\node[bdot] (lc10) at (123.6,1103.3) {};
		\node[bdot] (lc09) at (161,1103.3) {};
		\node[bdot] (lc06) at (199,1103.3) {};
		\coordinate (lcg) at (142.4,1103.3);
		\node[term] (p1) at (142.4,1135.3) {};
		\coordinate (lge) at (142.4,1275.7);
		\draw[wire] (p4) -- (la13) -- (lc13) -- (lc06);
		\draw[wire] (p2) -- (la10) -- (lc10);
		\draw[wire] (p5) -- (la09) -- (lc09);
		\draw[wire] (p3) -- (la06) -- (lc06);
		\draw[wire] (lcg) -- (p1);
		\draw[wire, toarrow] (p1) -- (lge);
		\node[big] (rl2an) at (50.4,1036) {RL2A};
		\node[num] (n21) at (97.3,1046) {4};
		\node[num] (n22) at (135.7,1046) {2};
		\node[num] (n23) at (172.3,1046) {5};
		\node[num] (n24) at (210.3,1046) {3};
		\node[tag] (e13a) at (85,1116.7) {E13};
		\node[tag] (e10a) at (123.2,1116.7) {E10};
		\node[tag] (e09a) at (163,1116.7) {E09};
		\node[tag] (e06a) at (197,1116.7) {E06};
		\node[num] (n25) at (153,1139.3) {1};
		\node[mid] (rearl) at (75,1151.7) {Rear light, L};
		\node[cab] (w43) at (143.3,1165) {1.5W};
		\node[code] (k38) at (134.8,1215) {GND11BI};
		\node[tag] (x14c) at (140,1284.7) {XSF14};
		\node[tag] (z1c) at (140,1297.7) {ZC:1 C};

		% outputs D10, D11, D17
		\node[cup] (bb73) at (85,875.5) {};
		\node[cup] (bb77) at (123.6,875.5) {};
		\node[cup] (bb711) at (161,875.5) {};
		\node[dot] (d17j) at (161,893.3) {};
		\coordinate (d17x) at (179.5,912.3);
		\coordinate (d17y) at (218,912.3);
		\coordinate (d17z) at (218,780);
		\coordinate (d17w) at (369,780);
		\node[hood] (rl45) at (369,1079) {};
		\draw[wire] (d10) -- (bb73) -- (p4);
		\draw[wire] (d11) -- (bb77) -- (p2);
		\draw[wire] (d17) -- (bb711) -- (d17j) -- (p5);
		\draw[wire] (d17j) -- (d17x) -- (d17y) -- (d17z) -- (d17w) -- (rl45);
		\node[cab] (w44) at (83,762.3) {1.0BL/SB};
		\node[cab] (w45) at (124.6,762.3) {1.0BN};
		\node[cab] (w46) at (164.3,762.3) {1.0VO};
		\node[tag] (bb73t) at (70,863) {BB7:3};
		\node[tag] (bb77t) at (108,863) {BB7:7};
		\node[tag] (bb711t) at (143.8,863) {BB7:11};
		\node[cab] (w47) at (83,917) {1.0BL/SB};
		\node[cab] (w48) at (124.6,917) {1.0BN};
		\node[cab] (w49) at (160.7,917.3) {1.0VO};
		\node[code] (k39) at (79.5,982.7) {A27.D10};
		\node[code] (k40) at (93.3,984) {EXTL};
		\node[code] (k41) at (116,981.7) {A27.D11};
		\node[code] (k42) at (130.4,984) {EXTL};
		\node[code] (k43) at (155.8,982) {A27.D17};
		\node[code] (k44) at (169,984) {EXTL};
		\node[cab] (w50) at (223,796.3) {1.0VO};
		\node[code] (k45) at (208.5,847.3) {A27.D17A};

		% output A7
		\node[cup] (bb72) at (274.5,875.5) {};
		\node[splice] (xsf01) at (274.5,1007) {};
		\coordinate (a7l) at (199,1007);
		\coordinate (a7r1) at (312.5,1007);
		\coordinate (a7r2) at (312.5,1309.3);
		\coordinate (a7r3) at (899,1309.3);
		\coordinate (a7r4) at (899,1007.3);
		\coordinate (a7r5) at (936.3,1007.3);
		\node[hood] (rl36) at (274.5,1119) {};
		\node[plug] (rl36p) at (274.5,1139.3) {};
		\node[bbbox] (bb5) at (274.5,1169.7) {BB};
		\node[term] (q3) at (936.3,1029) {};
		\draw[wire] (a7) -- (bb72) -- (xsf01) -- (rl36);
		\draw[wire] (xsf01) -- (a7l) -- (p3);
		\draw[wire] (xsf01) -- (a7r1) -- (a7r2) -- (a7r3) -- (a7r4) -- (a7r5) -- (q3);
		\draw[line width=1.4pt] (rl36p) -- (bb5);
		\node[cab] (w51) at (277.7,764.3) {1.0VO};
		\node[code] (k46) at (267,810) {A27.A7};
		\node[tag] (bb72t) at (259,863) {BB7:2};
		\node[cab] (w52) at (277.7,908) {1.0VO};
		\node[code] (k47) at (280,950.7) {EXTL};
		\node[tag] (xsf01t) at (299,995.3) {XSF01};
		\node[txt] (a7la) at (238.8,999.7) {A27.A7LA};
		\node[txt] (a7ex) at (240,1016.7) {EXTL};
		\node[cab] (w53) at (202,1021.3) {1.0VO};
		\node[cab] (w54) at (277.7,1025) {1.0VO};
		\node[code] (k48) at (267,1066) {A27.A7CA};
		\node[code] (k49) at (282,1067.7) {EXTL};
		\node[tag] (rl36t) at (272.8,1127.7) {RL3:6};
		\node[cab] (w55) at (897.7,1134.3) {1.0W};
		\node[code] (k50) at (889,1201.7) {A27.A7RA};

		% lamp E09
		\node[lpin] (e09u) at (369,1123.7) {};
		\node[lamp] (e09) at (369,1139) {};
		\node[lpin] (e09d) at (369,1154.3) {};
		\node[bar] (g5) at (369,1205.3) {};
		\draw[wire] (rl45) -- (e09u);
		\draw[wire] (e09d) -- (g5);
		\node[tagw] (rl45t) at (371,1091.7) {RL4:5};
		\node[num] (n26) at (379,1108.7) {1};
		\node[num] (n27) at (377,1163.7) {2};
		\node[bigv] (e09n) at (348,1151.7) {E09};
		\node[midv] (lampb1) at (346,1271.7) {Lamp,brake light};

		% output D16
		\node[cup] (bb75) at (425.4,838) {};
		\node[dot] (d16j) at (425.4,855.7) {};
		\coordinate (d16x) at (444,874.3);
		\coordinate (d16y) at (482.6,874.3);
		\node[hood] (rl33) at (425.4,1004) {};
		\node[hood] (rl41) at (482.6,1004) {};
		\node[lpin] (e13lu) at (425.4,1047.7) {};
		\node[lampb] (e13l) at (425.4,1063.3) {};
		\node[lpin] (e13ld) at (425.4,1078.7) {};
		\node[lpin] (e13au) at (482.6,1047.7) {};
		\node[lampb] (e13a2) at (482.6,1063.3) {};
		\node[lpin] (e13ad) at (482.6,1078.7) {};
		\node[bar] (g6) at (425.4,1129.7) {};
		\node[bar] (g7) at (482.6,1129.7) {};
		\draw[wire] (d16) -- (bb75) -- (d16j) -- (rl33) -- (e13lu);
		\draw[wire] (d16j) -- (d16x) -- (d16y) -- (rl41) -- (e13au);
		\draw[wire] (e13ld) -- (g6);
		\draw[wire] (e13ad) -- (g7);
		\node[cab] (w56) at (430,759) {1.0BL};
		\node[code] (k51) at (414.7,794) {A27.D16};
		\node[tag] (bb75t) at (406.7,838.3) {BB7:5};
		\node[cab] (w57) at (427.7,891) {1.0BL};
		\node[cab] (w58) at (483,892.7) {1.0BL};
		\node[code] (k52) at (431.7,939) {EXTL};
		\node[code] (k53) at (475,935) {A27.D16F};
		\node[code] (k54) at (488.8,942.3) {EXTL};
		\node[tagw] (rl33t) at (425.4,1016.7) {RL3:3};
		\node[tagw] (rl41t) at (484.4,1016.7) {RL4:1};
		\node[num] (n28) at (433.5,1038.7) {1};
		\node[num] (n29) at (433.5,1085.7) {2};
		\node[num] (n30) at (490.6,1038.7) {1};
		\node[num] (n31) at (490.6,1085.7) {2};
		\node[bigv] (e13ln) at (406.3,1081.7) {E13L};
		\node[bigv] (e13an) at (463.4,1088.3) {E13LA};
		\node[midv] (dirl) at (423,1218.3) {Dir. ind. left};

		% output A13, fog lights
		\node[dot] (a13j) at (577,742) {};
		\coordinate (a13x) at (558,761.3);
		\coordinate (a13y) at (520,761.3);
		\node[cup] (ib46) at (520,781) {};
		\coordinate (a13e) at (520,916);
		\node[cup] (bb712) at (577,856) {};
		\node[splice] (xsf13) at (577,969) {};
		\coordinate (x13l) at (539.3,969);
		\coordinate (x13r) at (614.8,969);
		\node[lpin] (e07lu) at (539.3,1086) {};
		\node[lamp] (e07l) at (539.3,1101.7) {};
		\node[lpin] (e07ld) at (539.3,1116.7) {};
		\coordinate (e07le) at (539.3,1237.7);
		\node[lpin] (e07ru) at (614.8,1086) {};
		\node[lamp] (e07r) at (614.8,1101.7) {};
		\node[lpin] (e07rd) at (614.8,1116.7) {};
		\coordinate (e07re) at (614.8,1237.7);
		\node[hood] (rl310) at (577,1119) {};
		\node[plug] (rl310p) at (577,1139.3) {};
		\node[bbbox] (bb6) at (577,1169.7) {BB};
		\draw[wire] (a13) -- (a13j) -- (bb712) -- (xsf13) -- (rl310);
		\draw[wire, toarrow] (a13j) -- (a13x) -- (a13y) -- (ib46) -- (a13e);
		\draw[wire] (xsf13) -- (x13l) -- (e07lu);
		\draw[wire] (xsf13) -- (x13r) -- (e07ru);
		\draw[wire, toarrow] (e07ld) -- (e07le);
		\draw[wire, toarrow] (e07rd) -- (e07re);
		\draw[line width=1.4pt] (rl310p) -- (bb6);
		\node[cab] (w59) at (531.7,753) {1.0BL/OR};
		\node[tag] (ib46t) at (507,790) {IB4:6};
		\node[cab] (w60) at (522.3,819) {0.5BL/OR};
		\node[code] (k55) at (513,861.7) {A27.A13B};
		\node[tag] (s016) at (518.3,925.7) {S01.6};
		\node[tag] (gb4c) at (518.3,938.7) {GB:4 C};
		\node[cab] (w61) at (583,771.7) {1.0BL/OR};
		\node[code] (k56) at (569.6,807.3) {A27.A13};
		\node[tag] (bb712t) at (558,845) {BB7:12};
		\node[cab] (w62) at (577,883.3) {1.0BL/OR};
		\node[code] (k57) at (569.6,922.7) {A27.A13A};
		\node[code] (k58) at (584.8,920) {EXTL};
		\node[tag] (xsf13t) at (558,958) {XSF13};
		\node[cab] (w63) at (521,990.7) {1.0BL/OR};
		\node[cab] (w64) at (579,990.7) {1.0BL/OR};
		\node[cab] (w65) at (634.4,990.7) {1.0BL/OR};
		\node[code] (k59) at (530,1037.3) {A27.A13E};
		\node[code] (k60) at (545,1037) {EXTL};
		\node[code] (k61) at (567.4,1037) {A27.A13F};
		\node[code] (k62) at (584.8,1036) {EXTL};
		\node[code] (k63) at (605.4,1036) {A27.A13G};
		\node[code] (k64) at (621,1036) {EXTL};
		\node[num] (n32) at (548.6,1070.3) {1};
		\node[num] (n33) at (547,1125.7) {2};
		\node[num] (n34) at (624.6,1070.3) {1};
		\node[num] (n35) at (622.3,1125.7) {2};
		\node[tag] (rl310t) at (577,1127.7) {RL3:10};
		\node[bigv] (e07ln) at (517.9,1131.7) {E07LR};
		\node[bigv] (e07rn) at (642.4,1135) {E07RR};
		\node[cab] (w66) at (542.4,1153.3) {1.0W};
		\node[cab] (w67) at (615.6,1153.3) {1.0W};
		\node[code] (k65) at (531.7,1191) {GND11BG};
		\node[code] (k66) at (547,1190.7) {EXTL};
		\node[code] (k67) at (607.6,1195) {GND11BF};
		\node[code] (k68) at (623.2,1191.7) {EXTL};
		\node[tag] (x14d) at (537.5,1246.3) {XSF14};
		\node[tag] (z1d) at (537.5,1259.7) {ZC:1 C};
		\node[tag] (x14e) at (613,1246.3) {XSF14};
		\node[tag] (z1e) at (613,1259.7) {ZC:1 C};
		\node[hand] (fog) at (575,1285) {Fog Lights};

		% outputs D1, B12
		\node[cup] (bb612) at (633.5,818) {};
		\node[hood] (rl47) at (633.5,910) {};
		\node[plug] (rl47p) at (633.5,932.3) {};
		\node[bbbox] (bb7) at (633.5,961.7) {BB};
		\node[cup] (ib96) at (671,932) {};
		\node[plugo] (ib96p) at (671,950.3) {};
		\draw[wire] (d1) -- (bb612) -- (rl47);
		\draw[wire] (b12) -- (ib96);
		\draw[line width=1.4pt] (rl47p) -- (bb7);
		\node[cab] (w68) at (633,762.3) {1.0BN};
		\node[tag] (bb612t) at (609,818) {BB6:12};
		\node[cab] (w69) at (635.3,845.7) {1.0BN};
		\node[code] (k69) at (629,873.3) {A27.D1};
		\node[code] (k70) at (639.7,873.3) {EXTL};
		\node[tag] (rl47t) at (636,919.7) {RL4:7};
		\node[cab] (w70) at (671,771.7) {0.75BL/R};
		\node[code] (k71) at (664.3,807.7) {A27.B12};
		\node[tag] (ib96t) at (686.6,913.7) {IB9:6};

		% output A4
		\node[cup] (bb76) at (785,894) {};
		\node[dot] (a4j) at (785,912.7) {};
		\coordinate (a4l) at (747,950);
		\coordinate (a4r) at (823,950);
		\node[hood] (rl42) at (747,1061) {};
		\node[hood] (rl34) at (823,1061) {};
		\node[lpin] (e13ru) at (747,1104.7) {};
		\node[lampb] (e13r) at (747,1120) {};
		\node[lpin] (e13rd) at (747,1135.3) {};
		\node[lpin] (e13bu) at (823,1104.7) {};
		\node[lampb] (e13b) at (823,1120) {};
		\node[lpin] (e13bd) at (823,1135.3) {};
		\node[bar] (g8) at (747,1186.3) {};
		\node[bar] (g9) at (823,1186.3) {};
		\draw[wire] (a4) -- (bb76) -- (a4j);
		\draw[wire] (a4j) -- (a4l) -- (rl42) -- (e13ru);
		\draw[wire] (a4j) -- (a4r) -- (rl34) -- (e13bu);
		\draw[wire] (e13rd) -- (g8);
		\draw[wire] (e13bd) -- (g9);
		\node[cab] (w71) at (785,758.7) {1.0Y};
		\node[code] (k72) at (777.4,809) {A27.A4};
		\node[tag] (bb76t) at (804,879.7) {BB7:6};
		\node[cab] (w72) at (748.3,960.7) {1.0Y};
		\node[cab] (w73) at (824.3,960.7) {1.0Y};
		\node[code] (k73) at (741.7,1013.3) {A27.A4F};
		\node[code] (k74) at (755,1012.7) {EXTL};
		\node[code] (k75) at (816,1012.7) {A27.A4G};
		\node[code] (k76) at (831,1012.7) {EXTL};
		\node[tagw] (rl42t) at (748.8,1072.7) {RL4:2};
		\node[tagw] (rl34t) at (824.7,1072.7) {RL3:4};
		\node[num] (n36) at (755,1095.3) {1};
		\node[num] (n37) at (755,1142.7) {2};
		\node[num] (n38) at (831,1095.3) {1};
		\node[num] (n39) at (831,1142.7) {2};
		\node[bigv] (e13rn) at (723.9,1146.7) {E13R};
		\node[bigv] (e13bn) at (803.5,1146.7) {E13RB};
		\node[midv] (dirr) at (764.5,1245.7) {Dir. ind. right};

		% rear light RL1A
		\node[unit, minimum width=157pt, minimum height=79.4pt] (rl1a) at (992.5,1073) {};
		\node[term] (q5) at (974,1029) {};
		\node[term] (q2) at (1012,1029) {};
		\node[term] (q4) at (1050,1029) {};
		\node[lamp] (ra06) at (936.3,1066.7) {};
		\node[lamp] (ra09) at (974,1066.7) {};
		\node[lamp] (ra10) at (1012,1066.7) {};
		\node[lampb] (ra13) at (1050,1066.7) {};
		\node[bdot] (rc06) at (936.3,1084.7) {};
		\node[bdot] (rc09) at (974,1084.7) {};
		\node[bdot] (rc10) at (1012,1084.7) {};
		\coordinate (rc13) at (1050,1084.7);
		\coordinate (rcg) at (993.2,1084.7);
		\node[term] (q1) at (993.2,1116.7) {};
		\coordinate (rge) at (993.2,1256.7);
		\draw[wire] (q3) -- (ra06) -- (rc06);
		\draw[wire] (q5) -- (ra09) -- (rc09);
		\draw[wire] (q2) -- (ra10) -- (rc10);
		\draw[wire] (q4) -- (ra13) -- (rc13) -- (rc06);
		\draw[wire] (rcg) -- (q1);
		\draw[wire, toarrow] (q1) -- (rge);
		\node[big] (rl1an) at (1086.5,1015.7) {RL1A};
		\node[num] (n40) at (923.9,1026.7) {3};
		\node[num] (n41) at (961.6,1026.7) {5};
		\node[num] (n42) at (999,1026.7) {2};
		\node[num] (n43) at (1036.7,1026.7) {4};
		\node[tag] (e06b) at (938,1097.7) {E06};
		\node[tag] (e09b) at (972,1097.7) {E09};
		\node[tag] (e10b) at (1011.8,1097.7) {E10};
		\node[tag] (e13b2) at (1050,1097.7) {E13};
		\node[num] (n44) at (982,1120.7) {1};
		\node[cab] (w74) at (996.5,1136.7) {1.5W};
		\node[mid] (rearr) at (1060.8,1132.7) {Rear light, R};
		\node[code] (k77) at (986,1183.3) {GND11BJ};
		\node[tag] (x14f) at (991,1265.3) {XSF14};
		\node[tag] (z1f) at (991,1278.7) {ZC:1 C};

		% output A5
		\node[cup] (bb71) at (974,837) {};
		\node[splice] (xsf11) at (974,931.7) {};
		\coordinate (a5l) at (861.2,931.7);
		\node[hood] (rl37) at (861.2,967.5) {};
		\node[plug] (rl37p) at (861.2,988.3) {};
		\node[bbbox] (bb8) at (861.2,1018.3) {BB};
		\draw[wire] (a5) -- (bb71) -- (xsf11) -- (q5);
		\draw[wire] (xsf11) -- (a5l) -- (rl37);
		\draw[line width=1.4pt] (rl37p) -- (bb8);
		\node[cab] (w75) at (976,752.7) {1.0GN};
		\node[code] (k78) at (967.4,790) {A27.A5B};
		\node[tag] (bb71t) at (960.4,825.7) {BB7:1};
		\node[cab] (w76) at (976,864.3) {1.0GN};
		\node[code] (k79) at (967.4,892.3) {A27.A5};
		\node[code] (k80) at (984,892) {EXTL};
		\node[tag] (xsf11t) at (953.3,923.7) {XSF11};
		\node[txt] (a5c) at (897.7,923.7) {A27.A5C};
		\node[txt] (a5ex) at (903.5,940.7) {EXTL};
		\node[cab] (w77) at (864.5,942) {1.0GN};
		\node[tag] (rl37t) at (860.8,978.7) {RL3:7};
		\node[cab] (w78) at (976,953.3) {1.0GN};
		\node[code] (k81) at (967.4,988.3) {A27.A5A};
		\node[code] (k82) at (982,987.7) {EXTL};

		% outputs D8, D13
		\node[cup] (bb78) at (1012,837) {};
		\node[cup] (bb74) at (1050,837) {};
		\draw[wire] (d8) -- (bb78) -- (q2);
		\draw[wire] (d13) -- (bb74) -- (q4);
		\node[cab] (w79) at (1014.3,752.7) {1.0GR};
		\node[code] (k83) at (1004.8,791.7) {A27.D8B};
		\node[tag] (bb78t) at (995.2,825.7) {BB7:8};
		\node[cab] (w80) at (1014.3,864.3) {1.0GR};
		\node[code] (k84) at (1004.8,933.3) {A27.D8};
		\node[code] (k85) at (1020.5,935) {EXTL};
		\node[cab] (w81) at (1058,752.7) {1.0BL/OR};
		\node[code] (k86) at (1043,789) {A27.D13B};
		\node[tag] (bb74t) at (1034.6,825.7) {BB7:4};
		\node[cab] (w82) at (1055.8,864.3) {1.0BL/OR};
		\node[code] (k87) at (1043,932.3) {A27.D13};
		\node[code] (k88) at (1058,936.7) {EXTL};

		% ground returns D9, A21
		\coordinate (d9e) at (1182,1011);
		\coordinate (a21e) at (1220.5,1011);
		\draw[wire, toarrow] (d9) -- (d9e);
		\draw[wire, toarrow] (a21) -- (a21e);
		\node[cab] (w83) at (1182.4,804) {0.75W};
		\node[cab] (w84) at (1220.5,804) {0.75W};
		\node[code] (k89) at (1173.2,906) {GND3B};
		\node[code] (k90) at (1211.4,906) {GND3A};
		\node[tag] (xsa1) at (1184.4,1019.7) {XSA43};
		\node[tag] (zc2a) at (1184.4,1034) {ZC:2 B};
		\node[tag] (xsa2) at (1226,1019.7) {XSA43};
		\node[tag] (zc2b) at (1226,1034) {ZC:2 B};

	\end{tikzpicture}
\end{document}
